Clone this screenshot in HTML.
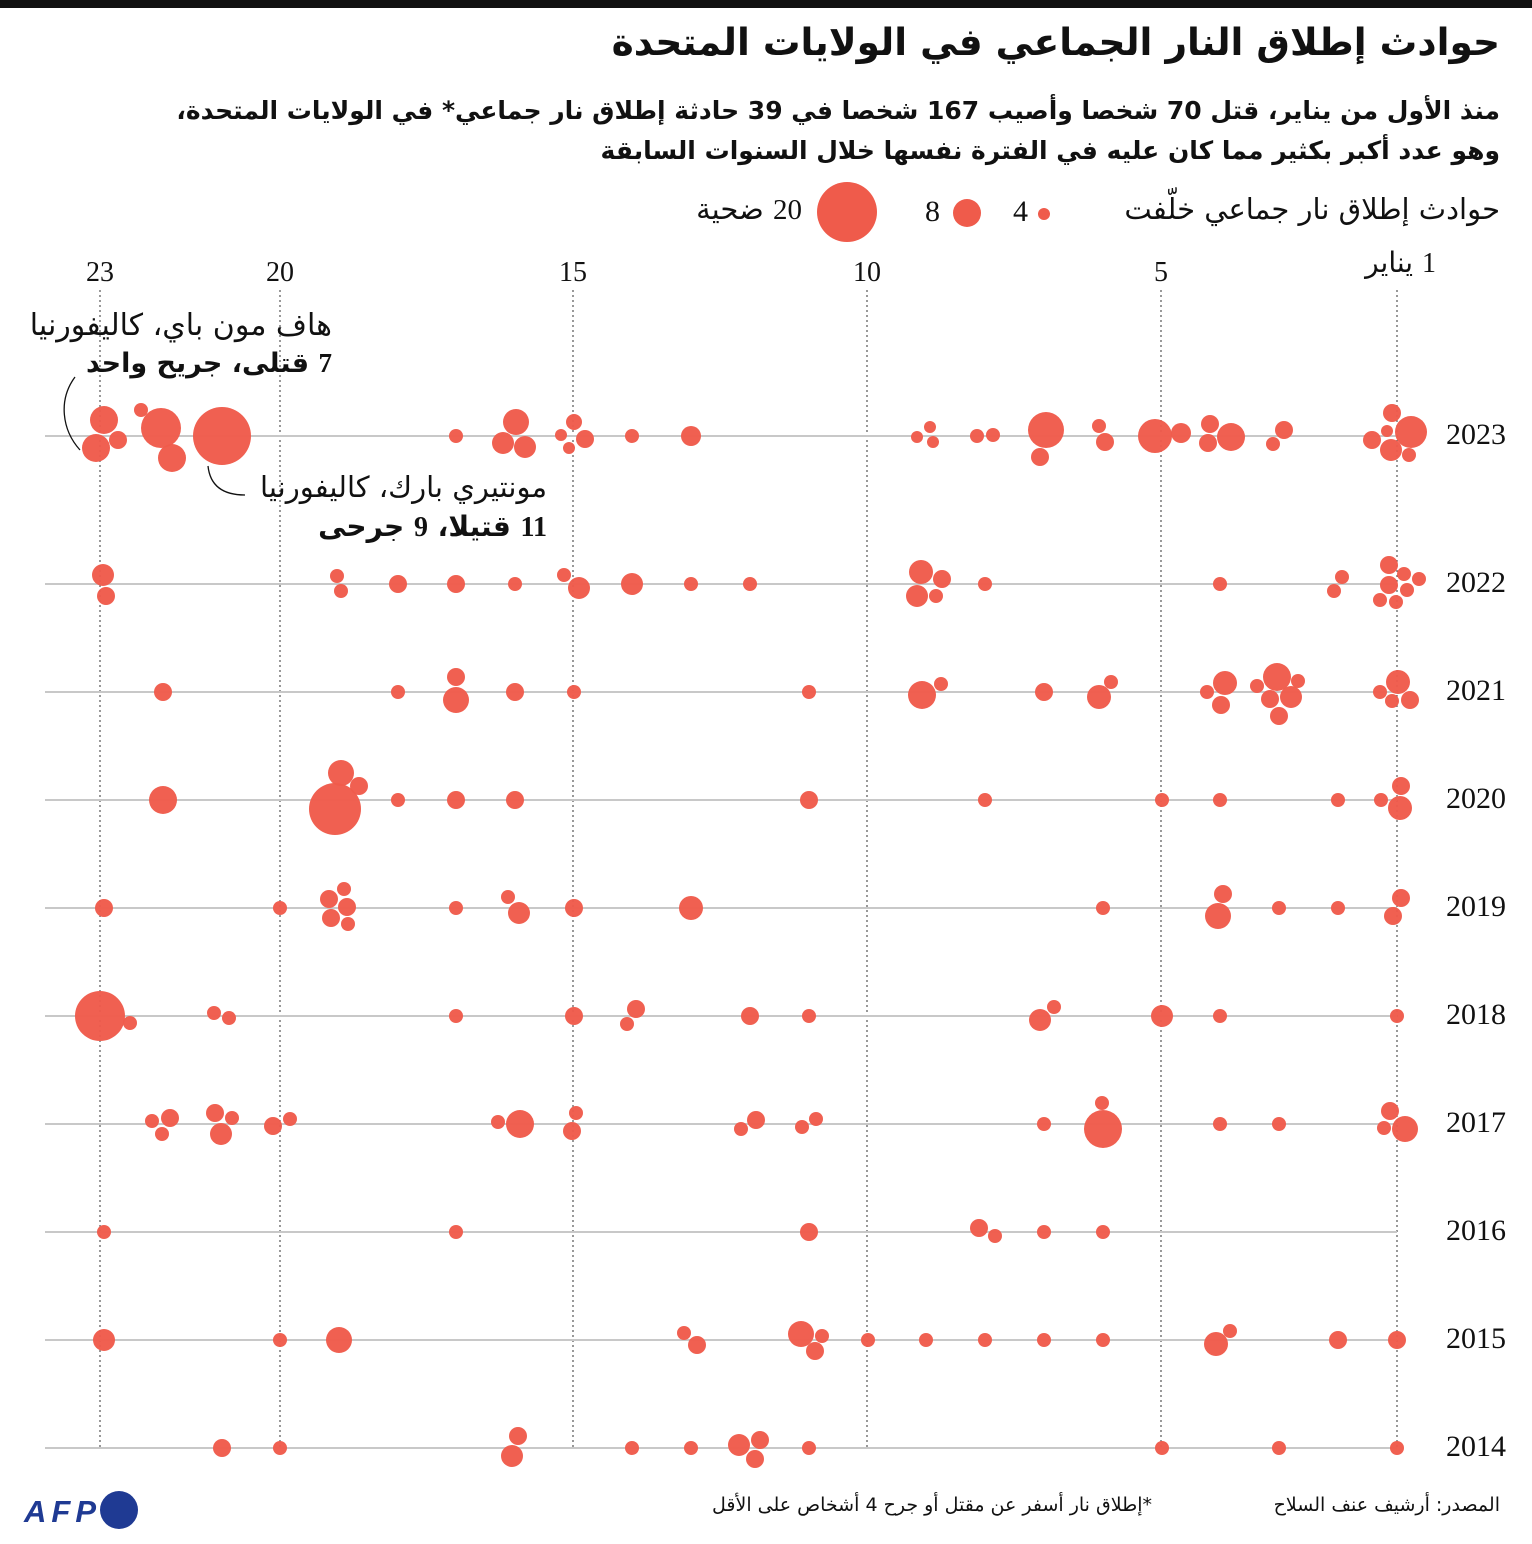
<!DOCTYPE html>
<html><head><meta charset="utf-8"><style>
body{margin:0;background:#fff;width:1532px;height:1544px;position:relative;overflow:hidden;font-family:"DejaVu Sans","Liberation Sans",sans-serif;color:#111}
.t{position:absolute;white-space:nowrap;direction:rtl}
.s{font-family:"Liberation Serif","DejaVu Serif",serif}
</style></head><body>
<div style="position:absolute;left:0;top:0;width:1532px;height:8px;background:#111"></div>
<div class="t" style="right:32px;top:20px;font-size:37.5px;font-weight:bold">حوادث إطلاق النار الجماعي في الولايات المتحدة</div>
<div class="t" style="right:32px;top:96px;font-size:25px;font-weight:bold">منذ الأول من يناير، قتل 70 شخصا وأصيب 167 شخصا في 39 حادثة إطلاق نار جماعي* في الولايات المتحدة،</div>
<div class="t" style="right:32px;top:136px;font-size:25px;font-weight:bold">وهو عدد أكبر بكثير مما كان عليه في الفترة نفسها خلال السنوات السابقة</div>
<div class="t" style="right:32px;top:192px;font-size:29px">حوادث إطلاق نار جماعي خلّفت</div>
<div class="t s" style="left:1013px;top:195px;font-size:30px;direction:ltr">4</div>
<div class="t s" style="left:925px;top:195px;font-size:30px;direction:ltr">8</div>
<div class="t" style="right:730px;top:192px;font-size:29px"><span class="s">20</span> ضحية</div>
<svg width="1532" height="1544" style="position:absolute;left:0;top:0" xmlns="http://www.w3.org/2000/svg">
<g fill="#ef5b4b">
<circle cx="1044" cy="214" r="6"/><circle cx="967" cy="213" r="14"/><circle cx="847" cy="212" r="30"/>
</g>
<g stroke="#555" stroke-width="1.2" stroke-dasharray="2,3">
<line x1="100" y1="290" x2="100" y2="1448"/><line x1="280" y1="290" x2="280" y2="1448"/><line x1="573" y1="290" x2="573" y2="1448"/><line x1="867" y1="290" x2="867" y2="1448"/><line x1="1161" y1="290" x2="1161" y2="1448"/><line x1="1397" y1="290" x2="1397" y2="1448"/>
</g>
<g stroke="#c8c8c8" stroke-width="2">
<line x1="45" y1="436" x2="1397" y2="436"/><line x1="45" y1="584" x2="1397" y2="584"/><line x1="45" y1="692" x2="1397" y2="692"/><line x1="45" y1="800" x2="1397" y2="800"/><line x1="45" y1="908" x2="1397" y2="908"/><line x1="45" y1="1016" x2="1397" y2="1016"/><line x1="45" y1="1124" x2="1397" y2="1124"/><line x1="45" y1="1232" x2="1397" y2="1232"/><line x1="45" y1="1340" x2="1397" y2="1340"/><line x1="45" y1="1448" x2="1397" y2="1448"/>
</g>
<g fill="none" stroke="#111" stroke-width="1.3">
<path d="M75,377 C58,400 62,430 80,450"/>
<path d="M208,466 C210,485 222,495 245,495"/>
</g>
<g fill="#ef5b4b" fill-opacity="0.97">
<circle cx="104" cy="420" r="14"/><circle cx="96" cy="448" r="14"/><circle cx="118" cy="440" r="9"/><circle cx="141" cy="410" r="7"/><circle cx="161" cy="428" r="20"/><circle cx="172" cy="458" r="14"/><circle cx="222" cy="436" r="29"/><circle cx="456" cy="436" r="7"/><circle cx="516" cy="422" r="13"/><circle cx="503" cy="443" r="11"/><circle cx="525" cy="447" r="11"/><circle cx="561" cy="435" r="6"/><circle cx="574" cy="422" r="8"/><circle cx="585" cy="439" r="9"/><circle cx="569" cy="448" r="6"/><circle cx="632" cy="436" r="7"/><circle cx="691" cy="436" r="10"/><circle cx="917" cy="437" r="6"/><circle cx="930" cy="427" r="6"/><circle cx="933" cy="442" r="6"/><circle cx="977" cy="436" r="7"/><circle cx="993" cy="435" r="7"/><circle cx="1046" cy="430" r="18"/><circle cx="1040" cy="457" r="9"/><circle cx="1099" cy="426" r="7"/><circle cx="1105" cy="442" r="9"/><circle cx="1155" cy="436" r="17"/><circle cx="1181" cy="433" r="10"/><circle cx="1210" cy="424" r="9"/><circle cx="1208" cy="443" r="9"/><circle cx="1231" cy="437" r="14"/><circle cx="1284" cy="430" r="9"/><circle cx="1273" cy="444" r="7"/><circle cx="1372" cy="440" r="9"/><circle cx="1392" cy="413" r="9"/><circle cx="1387" cy="431" r="6"/><circle cx="1391" cy="450" r="11"/><circle cx="1411" cy="432" r="16"/><circle cx="1409" cy="455" r="7"/>
<circle cx="103" cy="575" r="11"/><circle cx="106" cy="596" r="9"/><circle cx="337" cy="576" r="7"/><circle cx="341" cy="591" r="7"/><circle cx="398" cy="584" r="9"/><circle cx="456" cy="584" r="9"/><circle cx="515" cy="584" r="7"/><circle cx="564" cy="575" r="7"/><circle cx="579" cy="588" r="11"/><circle cx="632" cy="584" r="11"/><circle cx="691" cy="584" r="7"/><circle cx="750" cy="584" r="7"/><circle cx="921" cy="572" r="12"/><circle cx="917" cy="596" r="11"/><circle cx="942" cy="579" r="9"/><circle cx="936" cy="596" r="7"/><circle cx="985" cy="584" r="7"/><circle cx="1220" cy="584" r="7"/><circle cx="1342" cy="577" r="7"/><circle cx="1334" cy="591" r="7"/><circle cx="1389" cy="565" r="9"/><circle cx="1389" cy="585" r="9"/><circle cx="1404" cy="574" r="7"/><circle cx="1407" cy="590" r="7"/><circle cx="1419" cy="579" r="7"/><circle cx="1380" cy="600" r="7"/><circle cx="1396" cy="602" r="7"/>
<circle cx="163" cy="692" r="9"/><circle cx="398" cy="692" r="7"/><circle cx="456" cy="677" r="9"/><circle cx="456" cy="700" r="13"/><circle cx="515" cy="692" r="9"/><circle cx="574" cy="692" r="7"/><circle cx="809" cy="692" r="7"/><circle cx="922" cy="695" r="14"/><circle cx="941" cy="684" r="7"/><circle cx="1044" cy="692" r="9"/><circle cx="1099" cy="697" r="12"/><circle cx="1111" cy="682" r="7"/><circle cx="1207" cy="692" r="7"/><circle cx="1225" cy="683" r="12"/><circle cx="1221" cy="705" r="9"/><circle cx="1257" cy="686" r="7"/><circle cx="1277" cy="677" r="14"/><circle cx="1270" cy="699" r="9"/><circle cx="1291" cy="697" r="11"/><circle cx="1279" cy="716" r="9"/><circle cx="1298" cy="681" r="7"/><circle cx="1380" cy="692" r="7"/><circle cx="1398" cy="682" r="12"/><circle cx="1392" cy="701" r="7"/><circle cx="1410" cy="700" r="9"/>
<circle cx="163" cy="800" r="14"/><circle cx="335" cy="809" r="26"/><circle cx="341" cy="773" r="13"/><circle cx="359" cy="786" r="9"/><circle cx="398" cy="800" r="7"/><circle cx="456" cy="800" r="9"/><circle cx="515" cy="800" r="9"/><circle cx="809" cy="800" r="9"/><circle cx="985" cy="800" r="7"/><circle cx="1162" cy="800" r="7"/><circle cx="1220" cy="800" r="7"/><circle cx="1338" cy="800" r="7"/><circle cx="1381" cy="800" r="7"/><circle cx="1401" cy="786" r="9"/><circle cx="1400" cy="808" r="12"/>
<circle cx="104" cy="908" r="9"/><circle cx="280" cy="908" r="7"/><circle cx="329" cy="899" r="9"/><circle cx="344" cy="889" r="7"/><circle cx="347" cy="907" r="9"/><circle cx="331" cy="918" r="9"/><circle cx="348" cy="924" r="7"/><circle cx="456" cy="908" r="7"/><circle cx="508" cy="897" r="7"/><circle cx="519" cy="913" r="11"/><circle cx="574" cy="908" r="9"/><circle cx="691" cy="908" r="12"/><circle cx="1103" cy="908" r="7"/><circle cx="1223" cy="894" r="9"/><circle cx="1218" cy="916" r="13"/><circle cx="1279" cy="908" r="7"/><circle cx="1338" cy="908" r="7"/><circle cx="1401" cy="898" r="9"/><circle cx="1393" cy="916" r="9"/>
<circle cx="100" cy="1016" r="25"/><circle cx="130" cy="1023" r="7"/><circle cx="214" cy="1013" r="7"/><circle cx="229" cy="1018" r="7"/><circle cx="456" cy="1016" r="7"/><circle cx="574" cy="1016" r="9"/><circle cx="636" cy="1009" r="9"/><circle cx="627" cy="1024" r="7"/><circle cx="750" cy="1016" r="9"/><circle cx="809" cy="1016" r="7"/><circle cx="1040" cy="1020" r="11"/><circle cx="1054" cy="1007" r="7"/><circle cx="1162" cy="1016" r="11"/><circle cx="1220" cy="1016" r="7"/><circle cx="1397" cy="1016" r="7"/>
<circle cx="152" cy="1121" r="7"/><circle cx="170" cy="1118" r="9"/><circle cx="162" cy="1134" r="7"/><circle cx="215" cy="1113" r="9"/><circle cx="232" cy="1118" r="7"/><circle cx="221" cy="1134" r="11"/><circle cx="273" cy="1126" r="9"/><circle cx="290" cy="1119" r="7"/><circle cx="498" cy="1122" r="7"/><circle cx="520" cy="1124" r="14"/><circle cx="576" cy="1113" r="7"/><circle cx="572" cy="1131" r="9"/><circle cx="741" cy="1129" r="7"/><circle cx="756" cy="1120" r="9"/><circle cx="802" cy="1127" r="7"/><circle cx="816" cy="1119" r="7"/><circle cx="1044" cy="1124" r="7"/><circle cx="1102" cy="1103" r="7"/><circle cx="1103" cy="1129" r="19"/><circle cx="1220" cy="1124" r="7"/><circle cx="1279" cy="1124" r="7"/><circle cx="1390" cy="1111" r="9"/><circle cx="1384" cy="1128" r="7"/><circle cx="1405" cy="1129" r="13"/>
<circle cx="104" cy="1232" r="7"/><circle cx="456" cy="1232" r="7"/><circle cx="809" cy="1232" r="9"/><circle cx="979" cy="1228" r="9"/><circle cx="995" cy="1236" r="7"/><circle cx="1044" cy="1232" r="7"/><circle cx="1103" cy="1232" r="7"/>
<circle cx="104" cy="1340" r="11"/><circle cx="280" cy="1340" r="7"/><circle cx="339" cy="1340" r="13"/><circle cx="684" cy="1333" r="7"/><circle cx="697" cy="1345" r="9"/><circle cx="801" cy="1334" r="13"/><circle cx="815" cy="1351" r="9"/><circle cx="822" cy="1336" r="7"/><circle cx="868" cy="1340" r="7"/><circle cx="926" cy="1340" r="7"/><circle cx="985" cy="1340" r="7"/><circle cx="1044" cy="1340" r="7"/><circle cx="1103" cy="1340" r="7"/><circle cx="1216" cy="1344" r="12"/><circle cx="1230" cy="1331" r="7"/><circle cx="1338" cy="1340" r="9"/><circle cx="1397" cy="1340" r="9"/>
<circle cx="222" cy="1448" r="9"/><circle cx="280" cy="1448" r="7"/><circle cx="518" cy="1436" r="9"/><circle cx="512" cy="1456" r="11"/><circle cx="632" cy="1448" r="7"/><circle cx="691" cy="1448" r="7"/><circle cx="739" cy="1445" r="11"/><circle cx="760" cy="1440" r="9"/><circle cx="755" cy="1459" r="9"/><circle cx="809" cy="1448" r="7"/><circle cx="1162" cy="1448" r="7"/><circle cx="1279" cy="1448" r="7"/><circle cx="1397" cy="1448" r="7"/>
</g>
<g font-family="Liberation Serif, serif" font-size="28" fill="#111" text-anchor="middle">
<text x="100" y="281">23</text><text x="280" y="281">20</text><text x="573" y="281">15</text><text x="867" y="281">10</text><text x="1161" y="281">5</text>
</g>
<g font-family="Liberation Serif, serif" font-size="30" fill="#111" text-anchor="end">
<text x="1506" y="444">2023</text><text x="1506" y="592">2022</text><text x="1506" y="700">2021</text><text x="1506" y="808">2020</text><text x="1506" y="916">2019</text><text x="1506" y="1024">2018</text><text x="1506" y="1132">2017</text><text x="1506" y="1240">2016</text><text x="1506" y="1348">2015</text><text x="1506" y="1456">2014</text>
</g>
<text x="24" y="1522" font-family="Liberation Sans, sans-serif" font-weight="bold" font-style="italic" font-size="31" fill="#1f3a93" textLength="72">AFP</text>
<circle cx="119" cy="1510" r="19" fill="#1f3a93"/>
</svg>
<div class="t" style="right:96px;top:246px;font-size:28px"><span class="s">1</span> يناير</div>
<div class="t" style="right:1200px;top:308px;font-size:30px">هاف مون باي، كاليفورنيا</div>
<div class="t" style="right:1200px;top:348px;font-size:27px;font-weight:bold"><span class="s">7</span> قتلى، جريح واحد</div>
<div class="t" style="right:985px;top:470px;font-size:29px">مونتيري بارك، كاليفورنيا</div>
<div class="t" style="right:985px;top:510px;font-size:28px;font-weight:bold"><span class="s">11</span> قتيلا، <span class="s">9</span> جرحى</div>
<div class="t" style="right:32px;top:1494px;font-size:19px">المصدر: أرشيف عنف السلاح</div>
<div class="t" style="right:380px;top:1494px;font-size:19px">*إطلاق نار أسفر عن مقتل أو جرح 4 أشخاص على الأقل</div>
</body></html>
